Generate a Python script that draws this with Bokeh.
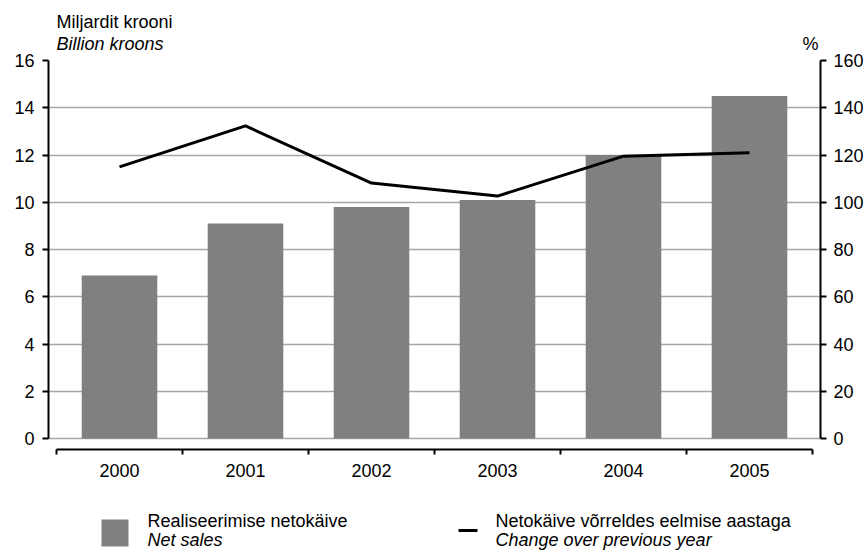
from bokeh.plotting import figure
from bokeh.models import Range1d, LinearAxis, FixedTicker, Grid
from bokeh.layouts import column
from bokeh.embed import file_html
from bokeh.resources import INLINE
from bokeh.core.properties import value

# ---- data ----
years = ["2000", "2001", "2002", "2003", "2004", "2005"]
net_sales = [6.9, 9.1, 9.8, 10.1, 12.0, 14.5]          # billion kroons (left axis)
change_pct = [115.0, 132.3, 108.1, 102.6, 119.5, 121.0]  # % (right axis)
left_ticks = [0, 2, 4, 6, 8, 10, 12, 14, 16]
right_ticks = [0, 20, 40, 60, 80, 100, 120, 140, 160]

title_line1 = "Miljardit krooni"
title_line2 = "Billion kroons"
right_unit = "%"
legend_bar = ("Realiseerimise netokäive", "Net sales")
legend_line = ("Netokäive võrreldes eelmise aastaga", "Change over previous year")

FONT = "Liberation Sans"
FS = "18px"
BAR_COLOR = "#808080"
GRID_COLOR = "#a6a6a6"

# ---- geometry (pixels) ----
TOTAL_W = 868
FRAME_L = 48
FRAME_W = 772
FRAME_R = TOTAL_W - FRAME_L - FRAME_W
CAT_PX = 126.0
SIDE_PAD = 8.0
PX_PER_UNIT = 378.0 / 16.0
BOTTOM_PAD = 11.0
FRAME_H = 389
HEADER_H = 52
LEGEND_H = 68
TXT_SHIFT = 7  # text glyph baseline correction

n = len(years)
centers = [i + 0.5 for i in range(n)]
boundaries = list(range(n + 1))

# ---- header (unit titles) ----
hd = figure(frame_width=FRAME_W, height=HEADER_H,
            x_range=Range1d(FRAME_L, FRAME_L + FRAME_W), y_range=Range1d(HEADER_H, 0),
            x_axis_type=None, y_axis_type=None, output_backend="svg",
            toolbar_location=None, min_border_left=FRAME_L, min_border_right=FRAME_R,
            min_border_top=0, min_border_bottom=0)
hd.outline_line_color = None
hd.xgrid.visible = False
hd.ygrid.visible = False
hd.text(x=[56], y=[28 - TXT_SHIFT], text=[title_line1], text_font=value(FONT),
        text_font_size=value(FS), text_baseline="alphabetic", text_color="black")
hd.text(x=[56], y=[50 - TXT_SHIFT], text=[title_line2], text_font=value(FONT),
        text_font_size=value(FS), text_baseline="alphabetic", text_font_style="italic",
        text_color="black")
hd.text(x=[802], y=[50 - TXT_SHIFT], text=[right_unit], text_font=value(FONT),
        text_font_size=value(FS), text_baseline="alphabetic", text_color="black")

# ---- main chart ----
x_range = Range1d(-SIDE_PAD / CAT_PX, n + SIDE_PAD / CAT_PX)
y_range = Range1d(-BOTTOM_PAD / PX_PER_UNIT, left_ticks[-1])

p = figure(frame_width=FRAME_W, frame_height=FRAME_H,
           x_range=x_range, y_range=y_range,
           x_axis_type=None, y_axis_type=None,
           output_backend="svg", toolbar_location=None,
           min_border_left=FRAME_L, min_border_right=FRAME_R,
           min_border_top=8, min_border_bottom=35)
p.outline_line_color = None
p.background_fill_color = "white"
p.border_fill_color = "white"

p.extra_y_ranges = {"pct": Range1d(-BOTTOM_PAD / PX_PER_UNIT * 10, right_ticks[-1])}

grid = Grid(dimension=1, ticker=FixedTicker(ticks=left_ticks),
            bounds=(0, n), grid_line_color=GRID_COLOR, grid_line_width=1.5)
p.add_layout(grid)

def style_axis(ax):
    ax.axis_line_width = 2
    ax.axis_line_color = "black"
    ax.major_tick_line_width = 2
    ax.major_tick_line_color = "black"
    ax.major_label_text_font = FONT
    ax.major_label_text_font_size = FS
    ax.major_label_text_color = "black"

yl = LinearAxis(ticker=FixedTicker(ticks=left_ticks, minor_ticks=[]), bounds=(0, left_ticks[-1]))
style_axis(yl)
yl.major_tick_in = 0
yl.major_tick_out = 6
yl.major_label_standoff = 8
yl.minor_tick_line_color = None
p.add_layout(yl, "left")

yr = LinearAxis(y_range_name="pct", ticker=FixedTicker(ticks=right_ticks, minor_ticks=[]),
                bounds=(0, right_ticks[-1]))
style_axis(yr)
yr.major_tick_in = 0
yr.major_tick_out = 6
yr.major_label_standoff = 7
yr.minor_tick_line_color = None
p.add_layout(yr, "right")

xa = LinearAxis(ticker=FixedTicker(ticks=centers, minor_ticks=boundaries), bounds=(0, n),
                major_label_overrides={c: y for c, y in zip(centers, years)})
style_axis(xa)
xa.major_tick_line_color = None
xa.major_tick_in = 0
xa.major_tick_out = 5
xa.minor_tick_in = 0
xa.minor_tick_out = 5
xa.minor_tick_line_width = 2
xa.minor_tick_line_color = "black"
xa.major_label_standoff = 9
p.add_layout(xa, "below")

p.vbar(x=centers, top=net_sales, bottom=0, width=0.6, fill_color=BAR_COLOR, line_color=None)
p.line(x=centers, y=change_pct, y_range_name="pct", line_color="black", line_width=3)

# ---- legend ----
lg = figure(frame_width=FRAME_W, height=LEGEND_H,
            x_range=Range1d(FRAME_L, FRAME_L + FRAME_W), y_range=Range1d(LEGEND_H, 0),
            x_axis_type=None, y_axis_type=None, output_backend="svg",
            toolbar_location=None, min_border_left=FRAME_L, min_border_right=FRAME_R,
            min_border_top=0, min_border_bottom=0)
lg.outline_line_color = None
lg.xgrid.visible = False
lg.ygrid.visible = False

lg.rect(x=[114.5], y=[48.5], width=27, height=27, fill_color=BAR_COLOR, line_color=None)
lg.segment(x0=[458], y0=[46], x1=[477], y1=[46], line_color="black", line_width=3)
lg.text(x=[147, 495], y=[43 - TXT_SHIFT] * 2, text=[legend_bar[0], legend_line[0]],
        text_font=value(FONT), text_font_size=value(FS), text_baseline="alphabetic",
        text_color="black")
lg.text(x=[147, 495], y=[62 - TXT_SHIFT] * 2, text=[legend_bar[1], legend_line[1]],
        text_font=value(FONT), text_font_size=value(FS), text_baseline="alphabetic",
        text_font_style="italic", text_color="black")

layout = column(hd, p, lg, spacing=0)
open("out.html", "w").write(file_html(layout, INLINE))
